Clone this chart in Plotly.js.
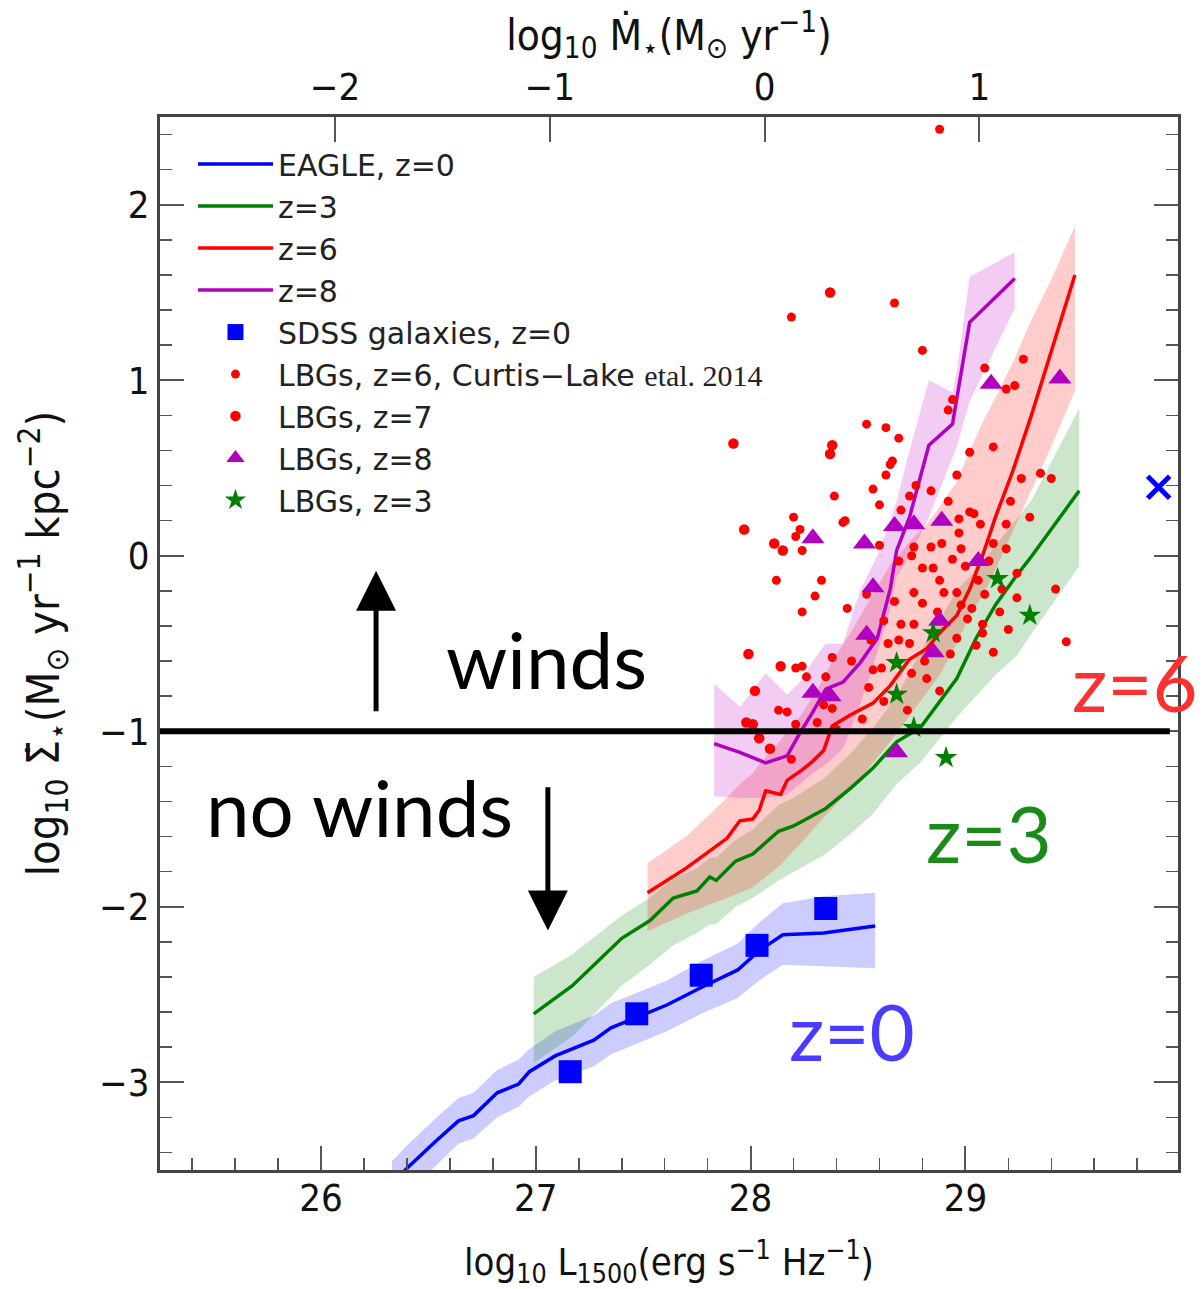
<!DOCTYPE html>
<html>
<head>
<meta charset="utf-8">
<script src="https://cdn.plot.ly/plotly-3.0.1.min.js"></script>
<style>
html,body{margin:0;padding:0;background:#fff;}
#chart{width:1204px;height:1289px;}
</style>
</head>
<body>
<div id="chart"></div>
<script>
// ---------------- data (log10 L1500, log10 SFR surface density) ----------------
const eagle0_L  = [26.33, 26.40, 26.53, 26.64, 26.71, 26.82, 26.92, 26.97, 27.09, 27.27, 27.35, 27.49, 27.61, 27.77, 27.94, 28.04, 28.15, 28.34, 28.58];
const eagle0_S  = [-3.58, -3.49, -3.34, -3.22, -3.19, -3.06, -3.01, -2.94, -2.85, -2.76, -2.69, -2.62, -2.56, -2.46, -2.36, -2.25, -2.16, -2.15, -2.11];
const eagle0_hi = [-3.45, -3.36, -3.21, -3.09, -3.06, -2.93, -2.87, -2.81, -2.71, -2.62, -2.55, -2.48, -2.42, -2.31, -2.21, -2.09, -1.98, -1.94, -1.92];
const eagle0_lo = [-3.72, -3.63, -3.48, -3.35, -3.32, -3.20, -3.14, -3.08, -2.99, -2.91, -2.84, -2.77, -2.71, -2.61, -2.52, -2.42, -2.33, -2.34, -2.35];

const eagle3_L  = [26.99, 27.17, 27.40, 27.53, 27.64, 27.75, 27.81, 27.84, 27.93, 28.01, 28.13, 28.20, 28.35, 28.47, 28.57, 28.68, 28.79, 28.96, 29.05, 29.14, 29.24, 29.31, 29.53];
const eagle3_S  = [-2.61, -2.45, -2.18, -2.08, -1.95, -1.91, -1.83, -1.85, -1.74, -1.70, -1.57, -1.54, -1.44, -1.32, -1.21, -1.06, -0.98, -0.70, -0.47, -0.28, -0.11, 0.00, 0.37];
const eagle3_hi = [-2.40, -2.27, -2.05, -1.95, -1.84, -1.78, -1.72, -1.72, -1.62, -1.56, -1.42, -1.38, -1.26, -1.12, -0.98, -0.80, -0.55, -0.20, -0.08, 0.06, 0.21, 0.32, 0.84];
const eagle3_lo = [-2.89, -2.74, -2.45, -2.33, -2.22, -2.15, -2.10, -2.10, -2.00, -1.95, -1.85, -1.80, -1.70, -1.58, -1.47, -1.30, -1.18, -0.92, -0.80, -0.68, -0.57, -0.44, -0.06];

const eagle6_L  = [27.52, 27.70, 27.89, 27.95, 28.01, 28.04, 28.07, 28.14, 28.17, 28.24, 28.29, 28.34, 28.38, 28.46, 28.57, 28.65, 28.74, 28.82, 28.88, 28.96, 29.02, 29.08, 29.14, 29.22, 29.31, 29.41, 29.51];
const eagle6_S  = [-1.92, -1.78, -1.61, -1.51, -1.50, -1.45, -1.34, -1.36, -1.28, -1.22, -1.17, -1.11, -0.97, -0.91, -0.84, -0.74, -0.59, -0.53, -0.44, -0.34, -0.19, 0.00, 0.22, 0.48, 0.81, 1.20, 1.60];
const eagle6_hi = [-1.75, -1.60, -1.38, -1.30, -1.24, -1.19, -1.15, -1.05, -1.00, -0.90, -0.80, -0.70, -0.60, -0.45, -0.22, -0.05, 0.08, 0.18, 0.28, 0.42, 0.60, 0.76, 0.90, 1.10, 1.35, 1.60, 1.88];
const eagle6_lo = [-2.14, -2.04, -1.95, -1.92, -1.89, -1.86, -1.83, -1.76, -1.72, -1.63, -1.56, -1.49, -1.44, -1.34, -1.18, -1.06, -0.91, -0.78, -0.68, -0.50, -0.34, -0.23, -0.08, 0.13, 0.38, 0.65, 0.94];

const eagle8_L  = [27.83, 27.95, 28.07, 28.17, 28.23, 28.29, 28.35, 28.43, 28.51, 28.59, 28.65, 28.68, 28.74, 28.83, 28.94, 28.96, 29.02, 29.23];
const eagle8_S  = [-1.07, -1.12, -1.18, -1.14, -1.01, -0.89, -0.76, -0.72, -0.61, -0.47, -0.19, 0.03, 0.22, 0.63, 0.75, 0.90, 1.33, 1.58];
const eagle8_hi = [-0.73, -0.86, -0.67, -0.79, -0.72, -0.60, -0.50, -0.50, -0.20, 0.00, 0.20, 0.31, 0.60, 1.00, 0.93, 1.05, 1.59, 1.73];
const eagle8_lo = [-1.37, -1.38, -1.38, -1.36, -1.30, -1.24, -1.19, -1.10, -0.85, -0.55, -0.31, -0.12, 0.00, 0.22, 0.56, 0.62, 0.88, 1.41];

const sdss_L = [27.16, 27.47, 27.77, 28.03, 28.35];
const sdss_S = [-2.94, -2.61, -2.39, -2.22, -2.01];

const lbg6_L = [28.88, 28.19, 28.67, 28.80, 29.09, 29.27, 29.19, 29.23, 28.94, 28.92, 28.54, 28.63, 28.69, 29.02, 29.13, 28.66, 28.65, 28.96, 28.63, 29.26,
                29.35, 29.40, 28.57, 28.77, 28.84, 28.39, 28.74, 28.92, 29.21, 28.60, 29.02, 29.04, 29.30, 28.20, 28.43, 28.44, 28.23, 29.19, 29.07, 28.97,
                28.21, 28.24, 28.70, 28.76, 28.84, 28.89, 28.97, 28.98, 29.13, 29.19, 28.12, 28.33, 28.30, 28.24, 28.45, 28.21, 28.24, 28.26, 28.38, 28.47,
                28.35, 28.13, 28.17, 28.21, 28.31, 28.34, 28.38, 28.19, 28.54, 28.57, 28.61, 28.55, 28.52, 28.40, 29.24, 29.42, 29.17, 29.24, 29.09, 29.03,
                29.01, 29.08, 29.08, 29.05, 29.13, 29.47, 28.96, 28.93, 28.76, 28.70, 28.74, 28.69, 28.75, 28.82, 28.73, 28.80, 28.88, 28.90, 28.80, 28.76,
                28.96, 28.85, 28.94, 28.69, 28.75, 28.60, 29.00, 29.11, 29.06, 28.98, 28.87, 28.67, 28.62, 28.56, 28.64, 28.81, 28.88, 28.62, 29.16, 29.20];
const lbg6_S = [2.43, 1.36, 1.44, 1.17, 1.07, 1.12, 0.95, 0.97, 0.89, 0.83, 0.75, 0.73, 0.67, 0.59, 0.62, 0.54, 0.52, 0.46, 0.46, 0.44,
                0.47, 0.44, 0.38, 0.40, 0.37, 0.34, 0.34, 0.31, 0.31, 0.29, 0.25, 0.24, 0.22, 0.22, 0.19, 0.20, 0.15, 0.18, 0.18, 0.21,
                0.11, 0.03, 0.26, 0.05, 0.05, 0.07, 0.13, 0.04, 0.07, 0.04, -0.14, -0.14, -0.23, -0.32, -0.30, -0.64, -0.63, -0.69, -0.58, -0.60,
                -0.69, -0.88, -0.89, -0.96, -0.95, -0.85, -0.87, -1.16, -0.22, -0.65, -0.64, -0.75, -0.93, -0.99, -0.10, -0.19, -0.19, -0.24, -0.22, -0.30,
                -0.36, -0.39, -0.44, -0.51, -0.55, -0.49, -0.47, -0.56, -0.39, -0.39, -0.50, -0.48, -0.67, -0.70, -0.88, -0.07, -0.14, -0.21, -0.27, -0.21,
                -0.21, -0.07, -0.02, -0.03, 0.00, 0.06, -0.06, -0.03, -0.14, -0.28, -0.32, -0.26, -0.37, -0.48, -0.50, -0.60, -0.77, -0.83, -0.32, -0.42];

const lbg7_L = [28.37, 27.92, 28.38, 28.37, 27.97, 28.11, 28.15, 27.99, 28.14, 28.02, 27.98, 28.01, 28.04, 28.09];
const lbg7_S = [1.50, 0.64, 0.63, 0.58, 0.15, 0.07, 0.03, -0.56, -0.63, -0.77, -0.95, -0.96, -1.04, -1.10];

const lbg8_L = [29.12, 29.44, 28.29, 28.53, 28.67, 28.76, 28.89, 29.06, 28.57, 28.54, 28.29, 28.37, 28.88, 28.85, 28.68];
const lbg8_S = [0.98, 1.01, 0.10, 0.07, 0.17, 0.18, 0.20, -0.03, -0.18, -0.45, -0.78, -0.80, -0.37, -0.55, -1.12];

const lbg3_L = [29.15, 29.30, 28.85, 28.68, 28.68, 28.76, 28.91];
const lbg3_S = [-0.13, -0.34, -0.44, -0.61, -0.79, -0.98, -1.15];

const cross_L = [29.90];
const cross_S = [0.39];

const windThreshold = -1;       // log10 SigmaSFR above which winds are launched
const sfrOffset = 28.065;       // log10 SFR = log10 L1500 - sfrOffset (top axis)
const xRange = [25.25, 29.99];
const yRange = [-3.5, 2.5];

const legendNames = ['EAGLE, z=0', 'z=3', 'z=6', 'z=8', 'SDSS galaxies, z=0',
  'LBGs, z=6, Curtis\u2212Lake <span style="font-family:\'Liberation Serif\'">etal. 2014</span>',
  'LBGs, z=7', 'LBGs, z=8', 'LBGs, z=3'];

// ---------------- traces ----------------
const BLUE = '#0000ff', GREEN = '#008000', RED = '#ff0000', PURPLE = '#b000c0';

function band(L, hi, lo, fill) {
  return {
    x: L.concat(L.slice().reverse()),
    y: hi.concat(lo.slice().reverse()),
    type: 'scatter', mode: 'lines', fill: 'toself', fillcolor: fill,
    line: {width: 0, color: 'rgba(0,0,0,0)'}, showlegend: false, hoverinfo: 'skip'
  };
}
function line(L, S, color, name) {
  return {x: L, y: S, type: 'scatter', mode: 'lines', name: name,
          line: {color: color, width: 3.5}};
}

const traces = [
  band(eagle0_L, eagle0_hi, eagle0_lo, 'rgba(0,0,255,0.2)'),
  band(eagle3_L, eagle3_hi, eagle3_lo, 'rgba(0,128,0,0.2)'),
  band(eagle6_L, eagle6_hi, eagle6_lo, 'rgba(255,0,0,0.2)'),
  band(eagle8_L, eagle8_hi, eagle8_lo, 'rgba(191,0,191,0.2)'),
  line(eagle0_L, eagle0_S, BLUE, legendNames[0]),
  line(eagle3_L, eagle3_S, GREEN, legendNames[1]),
  line(eagle6_L, eagle6_S, RED, legendNames[2]),
  line(eagle8_L, eagle8_S, PURPLE, legendNames[3]),
  {x: sdss_L, y: sdss_S, type: 'scatter', mode: 'markers', name: legendNames[4],
   marker: {symbol: 'square', size: 23, color: BLUE}},
  {x: lbg6_L, y: lbg6_S, type: 'scatter', mode: 'markers', name: legendNames[5],
   marker: {symbol: 'circle', size: 9, color: RED}},
  {x: lbg7_L, y: lbg7_S, type: 'scatter', mode: 'markers', name: legendNames[6],
   marker: {symbol: 'circle', size: 10.5, color: RED}},
  {x: lbg8_L, y: lbg8_S, type: 'scatter', mode: 'markers', name: legendNames[7],
   marker: {symbol: 'triangle-up', size: 20, color: PURPLE}},
  {x: lbg3_L, y: lbg3_S, type: 'scatter', mode: 'markers', name: legendNames[8],
   marker: {symbol: 'star', size: 17, color: GREEN}},
  {x: cross_L, y: cross_S, type: 'scatter', mode: 'markers', showlegend: false,
   marker: {symbol: 'x-thin', size: 22, color: BLUE, line: {color: BLUE, width: 5}}},
  // top axis (SFR) carrier
  {x: [xRange[0] - sfrOffset, xRange[1] - sfrOffset], y: [null, null], xaxis: 'x2', yaxis: 'y',
   type: 'scatter', mode: 'lines', showlegend: false, hoverinfo: 'skip'}
];

// ---------------- layout ----------------
const FAM = 'DejaVu Sans Condensed, DejaVu Sans';
const TICKFONT = {family: FAM, size: 38, color: '#111'};
const BIG = {family: 'Lato', size: 78};

const layout = {
  width: 1204, height: 1289,
  margin: {l: 160, r: 26, t: 117, b: 119},
  paper_bgcolor: '#fff', plot_bgcolor: '#fff',
  showlegend: true,
  legend: {x: 0.0324, y: 0.98, xanchor: 'left', yanchor: 'top', bgcolor: 'rgba(0,0,0,0)',
           font: {family: 'DejaVu Sans', size: 30, color: '#222'}, itemwidth: 75, tracegroupgap: 0},
  xaxis: {
    range: xRange, dtick: 1, tick0: 0, ticks: 'inside', ticklen: 24, tickwidth: 2, tickcolor: '#555',
    showline: true, linecolor: '#444', linewidth: 3, mirror: true, showgrid: false, zeroline: false,
    minor: {dtick: 0.2, tick0: 0, ticks: 'inside', ticklen: 12, tickwidth: 1.5, tickcolor: '#555', showgrid: false},
    tickfont: TICKFONT, ticklabelstandoff: -8,
    title: {text: 'log<sub>10</sub> L<sub>1500</sub>(erg s<sup>\u22121</sup> Hz<sup>\u22121</sup>)',
            font: {family: FAM, size: 38, color: '#111'}, standoff: 31}
  },
  xaxis2: {
    overlaying: 'x', side: 'top', anchor: 'y',
    range: [xRange[0] - sfrOffset, xRange[1] - sfrOffset], dtick: 1, tick0: 0,
    ticks: 'inside', ticklen: 25, tickwidth: 2, tickcolor: '#555',
    showline: false, showgrid: false, zeroline: false, tickfont: TICKFONT, ticklabelstandoff: 8,
    title: {text: 'log<sub>10</sub> \u1E40<sub>\u22C6</sub>(M<sub>\u2299</sub> yr<sup>\u22121</sup>)',
            font: {family: FAM, size: 42, color: '#111'}, standoff: 0}
  },
  yaxis: {
    range: yRange, dtick: 1, tick0: 0, ticks: 'inside', ticklen: 24, tickwidth: 2, tickcolor: '#555',
    showline: true, linecolor: '#444', linewidth: 3, mirror: 'ticks', showgrid: false, zeroline: false,
    minor: {dtick: 0.2, tick0: 0, ticks: 'inside', ticklen: 12, tickwidth: 1.5, tickcolor: '#555', showgrid: false},
    tickfont: TICKFONT,
    title: {text: 'log<sub>10</sub> \u03A3\u0307<sub>\u22C6</sub>(M<sub>\u2299</sub> yr<sup>\u22121</sup> kpc<sup>\u22122</sup>)',
            font: {family: FAM, size: 45, color: '#111'}, standoff: 26}
  },
  shapes: [
    {type: 'line', xref: 'paper', yref: 'y', x0: 0, x1: 0.992, y0: windThreshold, y1: windThreshold,
     line: {color: '#000', width: 6}}
  ],
  annotations: [
    {x: 26.256, y: -0.085, ax: 26.256, ay: -0.894, xref: 'x', yref: 'y', axref: 'x', ayref: 'y',
     text: '', showarrow: true, arrowhead: 2, arrowsize: 1.6, arrowwidth: 5, arrowcolor: '#000'},
    {x: 27.056, y: -2.135, ax: 27.056, ay: -1.31, xref: 'x', yref: 'y', axref: 'x', ayref: 'y',
     text: '', showarrow: true, arrowhead: 2, arrowsize: 1.6, arrowwidth: 5, arrowcolor: '#000'},
    {x: 27.05, y: -0.59, xref: 'x', yref: 'y', text: 'winds', showarrow: false,
     xanchor: 'center', yanchor: 'middle', font: Object.assign({color: '#000'}, BIG)},
    {x: 26.18, y: -1.43, xref: 'x', yref: 'y', text: 'no winds', showarrow: false,
     xanchor: 'center', yanchor: 'middle', font: Object.assign({color: '#000'}, BIG)},
    {x: 1.0216, y: -0.72, xref: 'paper', yref: 'y', text: 'z=6', showarrow: false,
     xanchor: 'right', yanchor: 'middle', font: Object.assign({color: '#ff3030'}, BIG)},
    {x: 29.11, y: -1.58, xref: 'x', yref: 'y', text: 'z=3', showarrow: false,
     xanchor: 'center', yanchor: 'middle', font: Object.assign({color: '#1a8a1a'}, BIG)},
    {x: 28.47, y: -2.71, xref: 'x', yref: 'y', text: 'z=0', showarrow: false,
     xanchor: 'center', yanchor: 'middle', font: Object.assign({color: '#4a3cff'}, BIG)}
  ]
};

Plotly.newPlot('chart', traces, layout, {staticPlot: true, displayModeBar: false});
</script>
</body>
</html>
